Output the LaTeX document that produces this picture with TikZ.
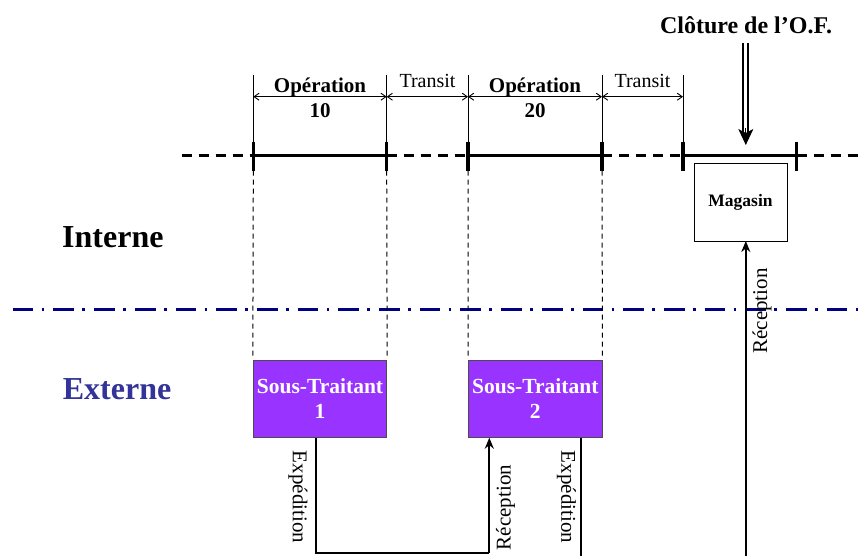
\documentclass[tikz,border=0pt]{standalone}
\usepackage{fontspec}
\setmainfont{Liberation Serif}
\usetikzlibrary{arrows.meta,calc}
\definecolor{stpurple}{HTML}{9933FF}
\definecolor{navyline}{HTML}{000080}
\definecolor{extcol}{HTML}{333399}
\tikzset{
  tline/.style={line width=3pt},
  tdash/.style={line width=3pt, dash pattern=on 10pt off 7pt},
  tick/.style={line width=3.5pt},
  dimv/.style={line width=1pt},
  dimarrow/.style={line width=0.9pt, {Straight Barb[length=5pt,width=7pt]}-{Straight Barb[length=5pt,width=7pt]}},
  guide/.style={line width=1pt, black, dash pattern=on 5pt off 4pt},
  zone/.style={line width=3.5pt, navyline, dash pattern=on 20.7pt off 8.3pt on 2.7pt off 9pt},
  stbox/.style={draw=black!70, line width=0.9pt, fill=stpurple, text=white, minimum width=133.4pt, minimum height=77.7pt, align=center, inner sep=0pt, font=\fontsize{21.5}{25}\selectfont\bfseries},
  magbox/.style={draw, line width=1pt, minimum width=93pt, minimum height=77pt, inner sep=0pt, font=\fontsize{17.5}{20}\selectfont\bfseries},
  oplab/.style={align=center, inner sep=0pt, font=\fontsize{21}{25}\selectfont\bfseries},
  trlab/.style={inner sep=0pt, font=\fontsize{20}{24}\selectfont},
  flow/.style={line width=2pt},
  flowarrow/.style={line width=2pt, -{Stealth[length=11pt,width=9pt]}},
  vlab/.style={inner sep=0pt, font=\fontsize{21}{25}\selectfont},
  zonelab/.style={inner sep=0pt, anchor=base west, font=\fontsize{32}{36}\selectfont\bfseries}
}
\begin{document}
\begin{tikzpicture}[x=1pt,y=-1pt]
\useasboundingbox (0,0) rectangle (858,556);

% timeline points
\coordinate (t0) at (181.7,155.7);
\coordinate (t1) at (253.3,155.7);
\coordinate (t2) at (386.7,155.7);
\coordinate (t3) at (468,155.7);
\coordinate (t4) at (602,155.7);
\coordinate (t5) at (683,155.7);
\coordinate (t6) at (796.7,155.7);
\coordinate (t7) at (858,155.7);

% timeline
\draw[tdash] (t0) -- (t1);
\draw[tline] (t1) -- (t2);
\draw[tdash] (t2) -- (t3);
\draw[tline] (t3) -- (t4);
\draw[tdash] (t4) -- (t5);
\draw[tline] (t5) -- (t6);
\draw[tdash] (t6) -- (t7);
\foreach \t in {t1,t2,t3,t4,t5,t6}{
  \draw[tick] ($(\t)+(0,-14)$) -- ($(\t)+(0,15)$);
}
% dimension verticals
\foreach \t in {t1,t2,t3,t4,t5}{
  \draw[dimv] ($(\t)+(0,-81)$) -- (\t);
}
% dimension arrows
\draw[dimarrow] ($(t1)+(0,-59)$) -- ($(t2)+(0,-59)$);
\draw[dimarrow] ($(t2)+(0,-59)$) -- ($(t3)+(0,-59)$);
\draw[dimarrow] ($(t3)+(0,-59)$) -- ($(t4)+(0,-59)$);
\draw[dimarrow] ($(t4)+(0,-59)$) -- ($(t5)+(0,-59)$);

\node[oplab] (op10) at (320,98) {Opération\\10};
\node[trlab] (tr1) at (427.5,80.7) {Transit};
\node[oplab] (op20) at (535,98) {Opération\\20};
\node[trlab] (tr2) at (642.5,80.7) {Transit};

% Clôture
\node[inner sep=0pt, font=\fontsize{24}{28}\selectfont\bfseries] (clo) at (746,25) {Clôture de l’O.F.};
\coordinate (cloA) at (745.8,43);
\coordinate (cloB) at (745.8,145);
\draw[line width=1.8pt] ($(cloA)+(-2.5,0)$) -- ($(cloB)+(-2.5,-10)$);
\draw[line width=1.8pt] ($(cloA)+(2.5,0)$) -- ($(cloB)+(2.5,-10)$);
\draw[line width=1pt, -{Stealth[length=16pt,width=15pt,inset=4pt]}] ($(cloB)+(0,-17)$) -- (cloB);

% Magasin
\node[magbox] (mag) at (740.5,202.5) {Magasin};

% zone separator
\coordinate (z0) at (12.7,309.3);
\coordinate (z1) at (858,309.3);
\draw[zone] (z0) -- (z1);

\node[zonelab] (int) at (62,247) {Interne};
\node[zonelab, text=extcol] (ext) at (62.7,399) {Externe};

% Sous-traitants
\node[stbox] (st1) at (320,398.8) {Sous-Traitant\\1};
\node[stbox] (st2) at (535.3,398.8) {Sous-Traitant\\2};

% guide lines
\draw[guide] ($(t1)+(0,15)$) -- (st1.north west);
\draw[guide] ($(t2)+(0,15)$) -- (st1.north east);
\draw[guide] ($(t3)+(0,15)$) -- (st2.north west);
\draw[guide] ($(t4)+(0,15)$) -- (st2.north east);

% flows
\coordinate (e1a) at (315.7,437.7);
\coordinate (e1b) at (315.7,553);
\coordinate (r1b) at (489.3,553);
\coordinate (r1a) at (489.3,437.7);
\draw[flow] (e1a) -- (e1b) -- (r1b);
\draw[flowarrow] (r1b) -- (r1a);
\node[vlab, rotate=-90] (lexp1) at (298,497) {Expédition};
\node[vlab, rotate=90] (lrec1) at (505.5,507.5) {Réception};

\coordinate (e2a) at (581,437.7);
\coordinate (e2b) at (581,556);
\draw[flow] (e2a) -- (e2b);
\node[vlab, rotate=-90] (lexp2) at (566.5,497) {Expédition};

\coordinate (r2b) at (745.8,556);
\coordinate (r2a) at (745.8,241);
\draw[flowarrow] (r2b) -- (r2a);
\node[vlab, rotate=90] (lrec2) at (762,311) {Réception};
\end{tikzpicture}
\end{document}
